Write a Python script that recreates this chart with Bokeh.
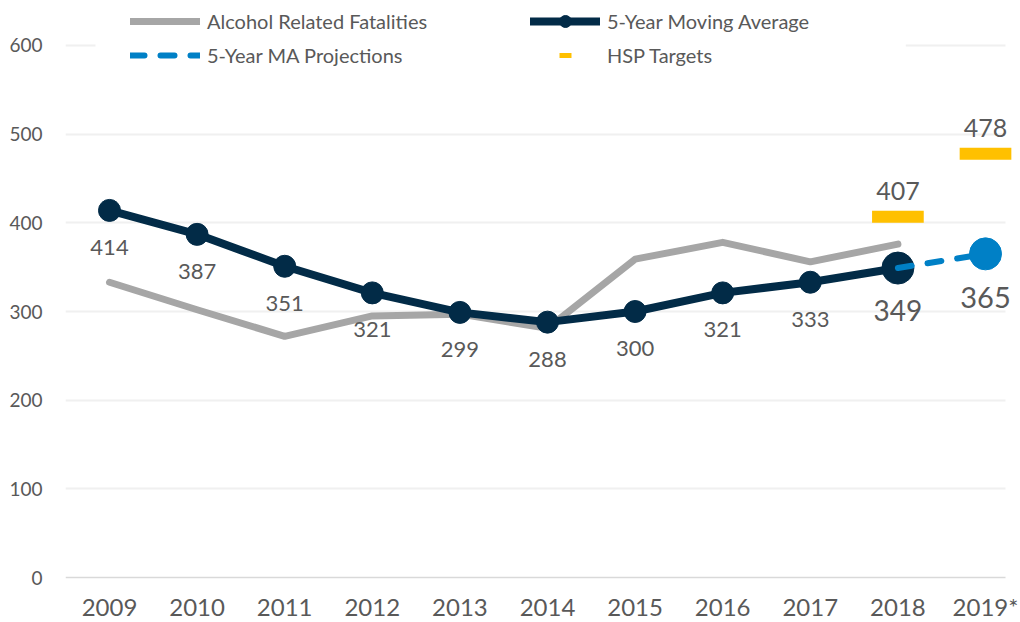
from bokeh.plotting import figure
from bokeh.models import Range1d, FixedTicker, Legend, LegendItem, BoxAnnotation, ColumnDataSource
from bokeh.core.properties import value
from bokeh.embed import file_html
from bokeh.resources import INLINE

# ---- data ----
years = [2009, 2010, 2011, 2012, 2013, 2014, 2015, 2016, 2017, 2018]
fatalities = [333, 302, 272, 295, 297, 281, 359, 378, 356, 376]
moving_avg = [414, 387, 351, 321, 299, 288, 300, 321, 333, 349]
proj_years = [2018, 2019]
proj_values = [349, 365]
target_years = [2018, 2019]
target_values = [407, 478]
x_ticks = [2009, 2010, 2011, 2012, 2013, 2014, 2015, 2016, 2017, 2018, 2019]
x_tick_labels = ["2009", "2010", "2011", "2012", "2013", "2014", "2015",
                 "2016", "2017", "2018", "2019*"]
y_ticks = [0, 100, 200, 300, 400, 500, 600]

GRAY = "#A6A6A6"
NAVY = "#022B47"
BLUE = "#0080C6"
YELLOW = "#FFC000"
TXT = "#595959"
FONT = "Lato"

X0, X1, XG = 2008.4977, 2019.3995, 2019.228   # frame ends / gridline end
W, H = 1020, 622
p = figure(width=W, height=H,
           x_range=Range1d(X0, X1),
           y_range=Range1d(-50.75, 650.75),
           output_backend="svg", toolbar_location=None,
           min_border_left=65, min_border_right=0,
           min_border_top=0, min_border_bottom=0)
p.outline_line_color = None
p.background_fill_color = "white"

# axes
p.xaxis.fixed_location = 0
p.xaxis.bounds = (X0, XG)
p.xaxis.ticker = FixedTicker(ticks=x_ticks)
p.xaxis.major_label_overrides = {t: l for t, l in zip(x_ticks, x_tick_labels)}
p.xaxis.axis_line_color = "#D9D9D9"
p.xaxis.axis_line_width = 1.5
p.xaxis.major_tick_line_color = None
p.xaxis.minor_tick_line_color = None
p.xaxis.major_label_text_font = FONT
p.xaxis.major_label_text_font_size = "24px"
p.xaxis.major_label_text_color = TXT
p.xaxis.major_label_standoff = 8

p.yaxis.ticker = FixedTicker(ticks=y_ticks)
p.yaxis.axis_line_color = None
p.yaxis.major_tick_line_color = None
p.yaxis.minor_tick_line_color = None
p.yaxis.major_label_text_font = FONT
p.yaxis.major_label_text_font_size = "19px"
p.yaxis.major_label_text_color = TXT
p.yaxis.major_label_standoff = 17

p.xgrid.grid_line_color = None
p.ygrid.ticker = FixedTicker(ticks=y_ticks[1:])
p.ygrid.grid_line_color = "#F0F0F0"
p.ygrid.grid_line_width = 2

# white masks: behind the legend area, and right of the plot area
p.add_layout(BoxAnnotation(left=2008.84, right=2018.09, bottom=585, top=650.75,
                           fill_color="white", fill_alpha=1, line_color=None,
                           level="underlay"))
p.add_layout(BoxAnnotation(left=XG, fill_color="white", fill_alpha=1,
                           line_color=None, level="underlay"))

# series
gray_line = p.line(years, fatalities, line_color=GRAY, line_width=7,
                   line_join="round", line_cap="round")
ma_line = p.line(years, moving_avg, line_color=NAVY, line_width=8,
                 line_join="round", line_cap="round")
ma_pts = p.scatter(years[:-1], moving_avg[:-1], size=22, marker="circle",
                   fill_color=NAVY, line_color=NAVY)
p.scatter(years[-1:], moving_avg[-1:], size=32, marker="circle",
          fill_color=NAVY, line_color=NAVY)
proj_line = p.line(proj_years, proj_values, line_color=BLUE, line_width=6,
                   line_dash="14 16", line_cap="round")
p.scatter(proj_years[-1:], proj_values[-1:], size=32, marker="circle",
          fill_color=BLUE, line_color=BLUE)
p.rect(target_years, target_values, width=0.59, height=12,
       height_units="screen", fill_color=YELLOW, line_color=None)
# zero-size markers: only used to draw the legend swatch
hsp_leg = p.scatter(target_years, target_values, size=0, marker="dash",
                    line_color=YELLOW, line_width=5)

# labels
small = ColumnDataSource(dict(x=years[:-1], y=moving_avg[:-1],
                              t=[str(v) for v in moving_avg[:-1]]))
p.text(x="x", y="y", text="t", source=small, y_offset=37,
       text_align="center", text_baseline="middle",
       text_font=value(FONT), text_font_size="22px", text_color=TXT)
p.text(x=years[-1:], y=moving_avg[-1:], text=[str(moving_avg[-1])], y_offset=42,
       text_align="center", text_baseline="middle",
       text_font=value(FONT), text_font_size="28px", text_color=TXT)
p.text(x=proj_years[-1:], y=proj_values[-1:], text=[str(proj_values[-1])], y_offset=44,
       text_align="center", text_baseline="middle",
       text_font=value(FONT), text_font_size="29px", text_color=TXT)
p.text(x=target_years, y=target_values, text=[str(v) for v in target_values],
       y_offset=-26, text_align="center", text_baseline="middle",
       text_font=value(FONT), text_font_size="25px", text_color=TXT)

# legends
def make_legend(items, x):
    lg = Legend(items=items, location=(x, 552), padding=0, margin=0,
                spacing=4, glyph_width=70, glyph_height=30, label_standoff=7,
                border_line_color=None, background_fill_color="white",
                background_fill_alpha=1,
                label_text_font=FONT, label_text_font_size="20px",
                label_text_color=TXT)
    return lg

legA = make_legend([
    LegendItem(label="Alcohol Related Fatalities", renderers=[gray_line]),
    LegendItem(label="5-Year MA Projections", renderers=[proj_line]),
], 65)
legB = make_legend([
    LegendItem(label="5-Year Moving Average", renderers=[ma_line, ma_pts]),
    LegendItem(label="HSP Targets", renderers=[hsp_leg], index=0),
], 465)
p.add_layout(legA, "center")
p.add_layout(legB, "center")

open("out.html", "w").write(file_html(p, INLINE))
